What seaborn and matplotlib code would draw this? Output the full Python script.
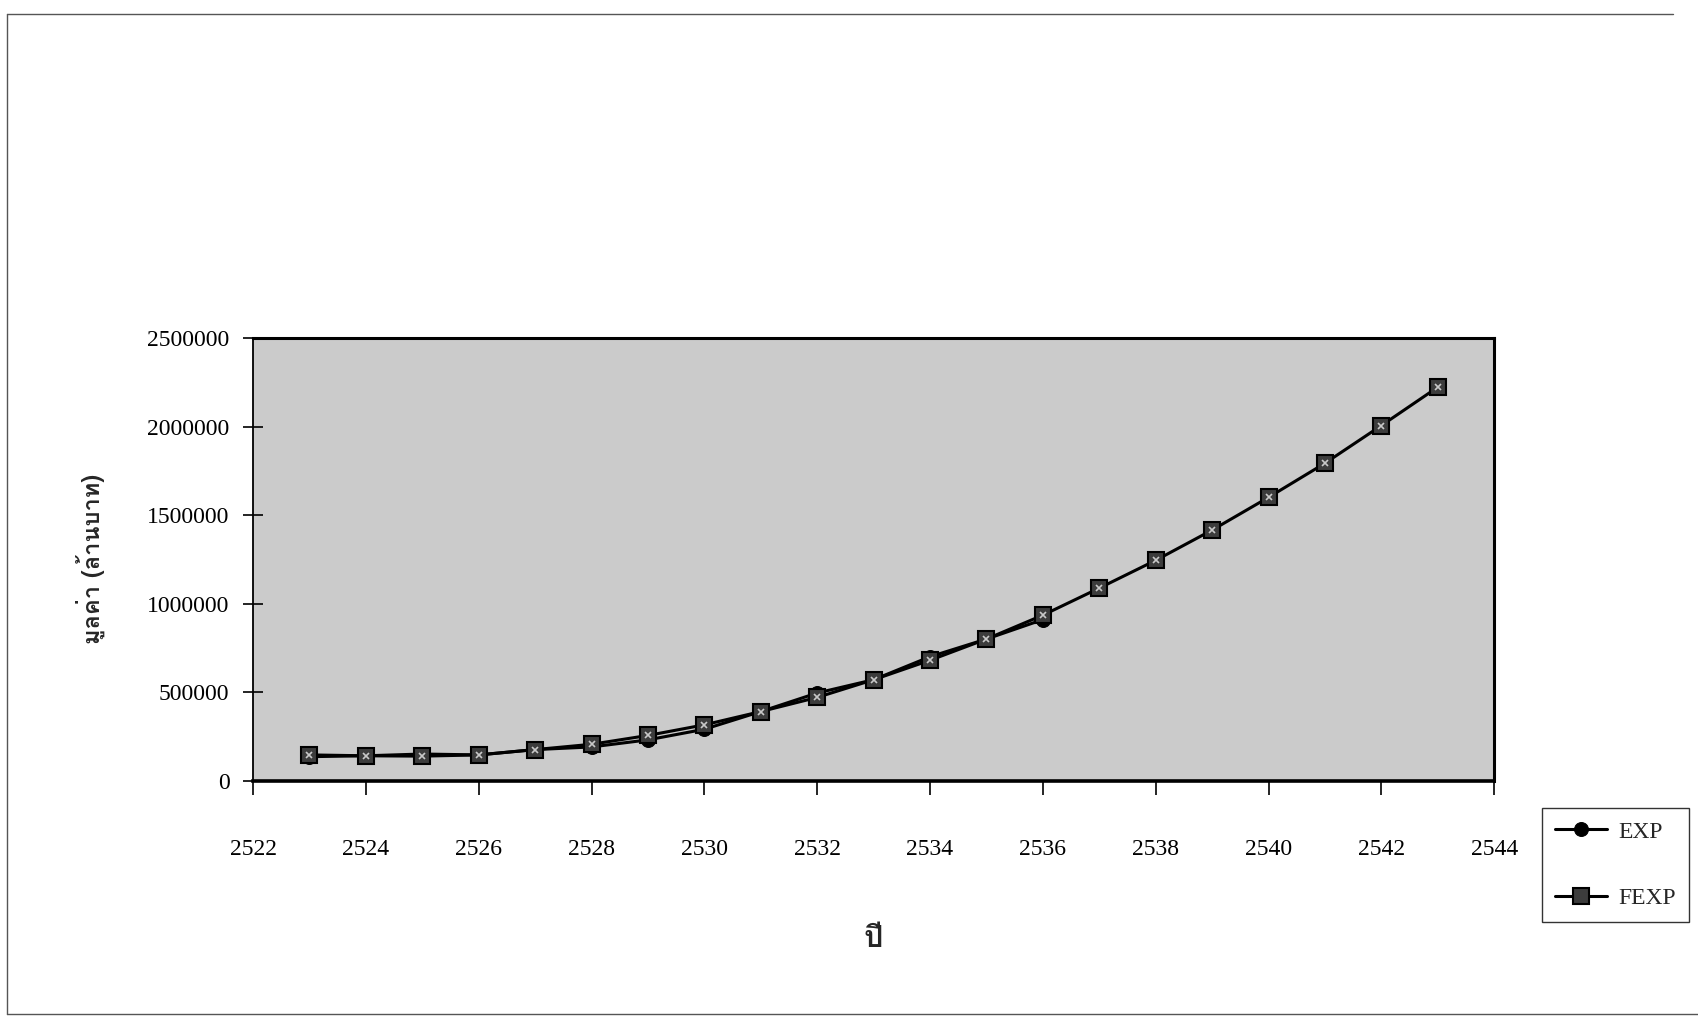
import matplotlib
matplotlib.use("Agg")
import matplotlib.pyplot as plt
from matplotlib import font_manager
from matplotlib.ft2font import FT2Font
from matplotlib.lines import Line2D
import pandas as pd
import seaborn as sns

# Years (Buddhist era) and export values in million baht
years_fexp = [2523, 2524, 2525, 2526, 2527, 2528, 2529, 2530, 2531, 2532, 2533,
              2534, 2535, 2536, 2537, 2538, 2539, 2540, 2541, 2542, 2543]
fexp_values = [145000, 140000, 138000, 145000, 175000, 205000, 255000, 315000,
               390000, 470000, 570000, 680000, 800000, 935000, 1088000, 1245000,
               1416000, 1601000, 1794000, 2007000, 2224000]

years_exp = [2523, 2524, 2525, 2526, 2527, 2528, 2529, 2530, 2531, 2532, 2533,
             2534, 2535, 2536]
exp_values = [135000, 140000, 150000, 145000, 175000, 190000, 230000, 290000,
              390000, 495000, 570000, 700000, 800000, 910000]

x_ticks = [2522, 2524, 2526, 2528, 2530, 2532, 2534, 2536, 2538, 2540, 2542, 2544]
y_ticks = [0, 500000, 1000000, 1500000, 2000000, 2500000]

y_label = "มูลค่า (ล้านบาท)"
x_label = "ปี"


def find_family(codepoints):
    seen = set()
    for f in font_manager.fontManager.ttflist:
        if f.fname in seen:
            continue
        seen.add(f.fname)
        try:
            cmap = FT2Font(f.fname).get_charmap()
        except Exception:
            continue
        if all(c in cmap for c in codepoints):
            return f.name
    return None


sns.set_style("white")
serif = "Liberation Serif"
thai = find_family([0x0E1B, 0x0E35, 0x0E21, 0x0E39])
plt.rcParams["font.family"] = [serif, "DejaVu Serif"]
thai_fam = [thai, "DejaVu Sans"] if thai else ["DejaVu Sans"]

exp_df = pd.DataFrame({"year": years_exp, "value": exp_values})
fexp_df = pd.DataFrame({"year": years_fexp, "value": fexp_values})

fig = plt.figure(figsize=(16.98, 10.19), dpi=100)
ax = fig.add_axes([0.149, 0.234, 0.731, 0.434])
ax.set_facecolor("#cbcbcb")

sns.lineplot(data=exp_df, x="year", y="value", ax=ax, color="black", lw=2.2,
             marker="o", markersize=10, markerfacecolor="black",
             markeredgecolor="black", label="EXP")
sns.lineplot(data=fexp_df, x="year", y="value", ax=ax, color="black", lw=2.2,
             marker="s", markersize=11, markerfacecolor="#3c3c3c",
             markeredgecolor="black", markeredgewidth=1.5, label="FEXP")
# light speckle in the centre of the square markers
ax.plot(fexp_df["year"], fexp_df["value"], linestyle="none", marker="x",
        markersize=4, markeredgecolor="#c8c8c8", markeredgewidth=1.2)

ax.set_xlim(2522, 2544)
ax.set_ylim(0, 2500000)
ax.set_xticks(x_ticks)
ax.set_xticklabels([str(v) for v in x_ticks])
ax.set_yticks(y_ticks)
ax.set_yticklabels([str(v) for v in y_ticks])

ax.tick_params(axis="x", direction="out", length=10, width=1.2, pad=32,
               labelsize=17, colors="black", bottom=True)
ax.tick_params(axis="y", direction="inout", length=14, width=1.2, pad=10,
               labelsize=17, colors="black", left=True)

for side, sp in ax.spines.items():
    sp.set_visible(True)
    sp.set_color("black")
    sp.set_linewidth(1.3)
ax.spines["bottom"].set_linewidth(2.6)
ax.spines["top"].set_linewidth(2.2)
ax.spines["right"].set_linewidth(2.2)

ax.set_xlabel(x_label, fontsize=22, fontweight="bold", family=thai_fam,
              labelpad=47)
ax.set_ylabel(y_label, fontsize=17, fontweight="bold", family=thai_fam,
              labelpad=30)

leg = ax.legend(loc="center", bbox_to_anchor=(0.9514, 0.151),
                bbox_transform=fig.transFigure, frameon=True, fancybox=False,
                edgecolor="black", fontsize=17, labelspacing=1.9,
                handlelength=2.2, borderpad=0.55, handletextpad=0.5)
leg.get_frame().set_linewidth(1.0)
leg.get_frame().set_facecolor("white")

# page border: top, left and bottom edges
for xs, ys in [([0.004, 0.985], [0.986, 0.986]),
               ([0.004, 0.004], [0.005, 0.986]),
               ([0.004, 1.0], [0.005, 0.005])]:
    fig.add_artist(Line2D(xs, ys, transform=fig.transFigure,
                          color="#555555", linewidth=1.0))

fig.savefig("out.png", dpi=100, facecolor="white")
